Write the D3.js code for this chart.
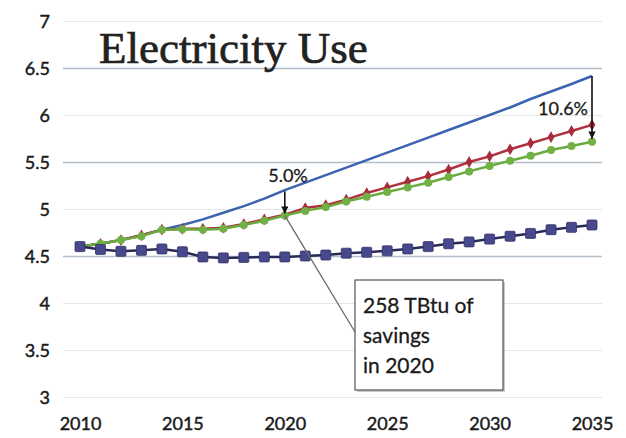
<!DOCTYPE html>
<html>
<head>
<meta charset="utf-8">
<script src="https://cdn.jsdelivr.net/npm/d3@7"></script>
<style>
  html, body { margin: 0; padding: 0; background: #ffffff; }
  svg { display: block; }
</style>
</head>
<body>
<svg id="chart" width="626" height="438"></svg>
<script>
// Electricity use projections, 2010–2035
const years = d3.range(2010, 2036);
const yTicks = [3, 3.5, 4, 4.5, 5, 5.5, 6, 6.5, 7];
const xTicks = [2010, 2015, 2020, 2025, 2030, 2035];

// Baseline projection (no markers)
const baseline = [4.60, 4.63, 4.67, 4.72, 4.78, 4.83, 4.89, 4.96, 5.03, 5.11, 5.20,
                  5.28, 5.36, 5.44, 5.52, 5.60, 5.68, 5.76, 5.84, 5.92, 6.00,
                  6.08, 6.17, 6.25, 6.33, 6.415];
// Diamond-marker series
const redSeries = [4.60, 4.63, 4.67, 4.72, 4.78, 4.79, 4.79, 4.80, 4.84, 4.89, 4.94,
                   5.01, 5.04, 5.10, 5.17, 5.23, 5.29, 5.35, 5.42, 5.50, 5.56,
                   5.635, 5.70, 5.765, 5.83, 5.895];
// Circle-marker series
const greenSeries = [4.60, 4.63, 4.67, 4.71, 4.78, 4.785, 4.78, 4.79, 4.83, 4.875, 4.93,
                     4.98, 5.02, 5.08, 5.13, 5.18, 5.23, 5.28, 5.34, 5.40, 5.457,
                     5.514, 5.567, 5.628, 5.67, 5.716];
// Square-marker series
const navySeries = [4.60, 4.57, 4.55, 4.56, 4.575, 4.545, 4.49, 4.48, 4.485, 4.49, 4.49,
                    4.50, 4.51, 4.53, 4.54, 4.555, 4.575, 4.60, 4.63, 4.65, 4.68,
                    4.71, 4.74, 4.78, 4.805, 4.83];

const sans = "Lato, 'Open Sans', sans-serif";
const ink = "#1a1a1a";

const svg = d3.select("#chart");
const x = d3.scaleLinear().domain([2010, 2035]).range([80, 592]);
const y = d3.scaleLinear().domain([3, 7]).range([397, 21]);

// Horizontal gridlines
const strongGrid = new Set([4.5, 5.5, 6.5]);
svg.append("g").selectAll("line").data(yTicks).join("line")
  .attr("x1", 63).attr("x2", 602)
  .attr("y1", d => Math.round(y(d)) + 0.5).attr("y2", d => Math.round(y(d)) + 0.5)
  .attr("stroke", d => strongGrid.has(d) ? "#b4bec8" : "#e4e7ea")
  .attr("stroke-width", d => strongGrid.has(d) ? 1.4 : 1);

// Y axis labels
const yAxis = d3.axisLeft(y).tickValues(yTicks).tickSize(0).tickPadding(0)
  .tickFormat(d => String(d));
svg.append("g").attr("transform", "translate(50,0)").call(yAxis)
  .call(g => g.select(".domain").remove())
  .call(g => g.selectAll("text")
    .attr("font-family", sans).attr("font-size", 18).attr("fill", ink)
    .attr("stroke", ink).attr("stroke-width", 0.45).attr("dy", "0.35em"));

// X axis labels
const xAxis = d3.axisBottom(x).tickValues(xTicks).tickSize(0).tickPadding(0)
  .tickFormat(d3.format("d"));
svg.append("g").attr("transform", "translate(0,417)").call(xAxis)
  .call(g => g.select(".domain").remove())
  .call(g => g.selectAll("text")
    .attr("font-family", sans).attr("font-size", 18).attr("fill", ink)
    .attr("stroke", ink).attr("stroke-width", 0.45).attr("dy", "0.71em"));

// Title
svg.append("text").attr("x", 99).attr("y", 63)
  .attr("font-family", "'Liberation Serif', 'Times New Roman', serif")
  .attr("font-size", 45).attr("fill", "#222")
  .attr("stroke", "#222").attr("stroke-width", 0.7)
  .text("Electricity Use");

const line = d3.line().x((d, i) => x(years[i])).y(d => y(d));

// Baseline
svg.append("path").datum(baseline).attr("d", line)
  .attr("fill", "none").attr("stroke", "#3b63b0").attr("stroke-width", 2.5);

// Diamond series
svg.append("path").datum(redSeries).attr("d", line)
  .attr("fill", "none").attr("stroke", "#b0323f").attr("stroke-width", 2.5);
svg.append("g").selectAll("path").data(redSeries).join("path")
  .attr("d", d3.symbol(d3.symbolDiamond, 40))
  .attr("transform", (d, i) => `translate(${x(years[i])},${y(d)})`)
  .attr("fill", "#a82c3c");

// Circle series
svg.append("path").datum(greenSeries).attr("d", line)
  .attr("fill", "none").attr("stroke", "#6aab3e").attr("stroke-width", 2.5);
svg.append("g").selectAll("circle").data(greenSeries).join("circle")
  .attr("cx", (d, i) => x(years[i])).attr("cy", d => y(d)).attr("r", 4)
  .attr("fill", "#70b044");

// Square series
svg.append("path").datum(navySeries).attr("d", line)
  .attr("fill", "none").attr("stroke", "#2a2a58").attr("stroke-width", 2.5);
svg.append("g").selectAll("rect").data(navySeries).join("rect")
  .attr("x", (d, i) => x(years[i]) - 5).attr("y", d => y(d) - 5)
  .attr("width", 10).attr("height", 10).attr("rx", 1.2)
  .attr("fill", "#48488c").attr("stroke", "#33336a").attr("stroke-width", 0.8);

// Arrowhead marker
svg.append("defs").append("marker")
  .attr("id", "arrow").attr("viewBox", "0 0 10 10")
  .attr("refX", 10).attr("refY", 5)
  .attr("markerWidth", 4.5).attr("markerHeight", 4.5).attr("orient", "auto")
  .append("path").attr("d", "M0,0 L10,5 L0,10 Z").attr("fill", "#111");

const i2020 = years.indexOf(2020);
const i2035 = years.indexOf(2035);

// 5.0% gap in 2020
svg.append("line")
  .attr("x1", x(2020)).attr("x2", x(2020))
  .attr("y1", y(baseline[i2020]) + 1).attr("y2", y(greenSeries[i2020]) - 2)
  .attr("stroke", "#111").attr("stroke-width", 1.6).attr("marker-end", "url(#arrow)");
svg.append("text").attr("x", 288).attr("y", 182).attr("text-anchor", "middle")
  .attr("font-family", sans).attr("font-size", 18).attr("fill", ink)
  .attr("stroke", ink).attr("stroke-width", 0.3).text("5.0%");

// 10.6% gap in 2035
svg.append("line")
  .attr("x1", x(2035)).attr("x2", x(2035))
  .attr("y1", y(baseline[i2035])).attr("y2", y(greenSeries[i2035]) - 3)
  .attr("stroke", "#111").attr("stroke-width", 1.6).attr("marker-end", "url(#arrow)");
svg.append("text").attr("x", 588).attr("y", 115).attr("text-anchor", "end")
  .attr("font-family", sans).attr("font-size", 18).attr("fill", ink)
  .attr("stroke", ink).attr("stroke-width", 0.3).text("10.6%");

// Callout box
const box = { x: 355, y: 280, w: 148, h: 110 };
svg.append("line")
  .attr("x1", x(2020)).attr("y1", y(greenSeries[i2020]))
  .attr("x2", box.x).attr("y2", 332)
  .attr("stroke", "#6a6a6a").attr("stroke-width", 1.3);
svg.append("rect").attr("x", box.x + 2).attr("y", box.y + 2)
  .attr("width", box.w).attr("height", box.h).attr("fill", "#c8c8c8");
svg.append("rect").attr("x", box.x).attr("y", box.y)
  .attr("width", box.w).attr("height", box.h)
  .attr("fill", "#ffffff").attr("stroke", "#555").attr("stroke-width", 1.2);
const boxLines = ["258 TBtu of", "savings", "in 2020"];
svg.append("g").selectAll("text").data(boxLines).join("text")
  .attr("x", box.x + 8).attr("y", (d, i) => 313 + i * 30)
  .attr("font-family", sans).attr("font-size", 21).attr("fill", ink)
  .attr("stroke", ink).attr("stroke-width", 0.3).text(d => d);
</script>
</body>
</html>
